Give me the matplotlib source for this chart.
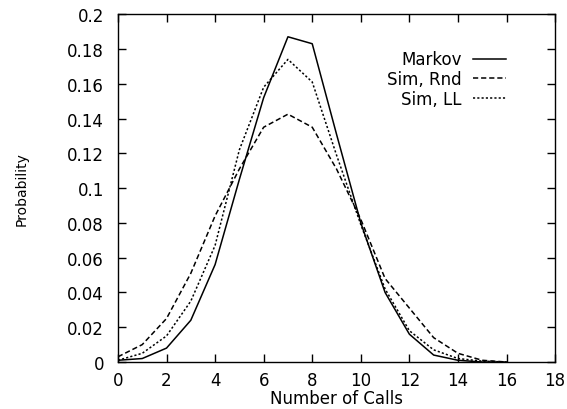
import matplotlib
matplotlib.use("Agg")
import matplotlib.pyplot as plt

plt.rcParams['font.family'] = ['DejaVu Sans']

calls = [0, 1, 2, 3, 4, 5, 6, 7, 8, 9, 10, 11, 12, 13, 14, 15, 16]
markov = [0.001, 0.002, 0.008, 0.024, 0.056, 0.105, 0.152, 0.187, 0.183,
          0.131, 0.080, 0.040, 0.016, 0.004, 0.001, 0.0, 0.0]
sim_rnd = [0.003, 0.010, 0.025, 0.051, 0.084, 0.111, 0.135, 0.1425, 0.135,
           0.111, 0.082, 0.048, 0.031, 0.014, 0.005, 0.001, 0.0]
sim_ll = [0.001, 0.005, 0.015, 0.035, 0.067, 0.122, 0.158, 0.174, 0.161,
          0.119, 0.079, 0.042, 0.018, 0.007, 0.002, 0.0005, 0.0]

xticks = [0, 2, 4, 6, 8, 10, 12, 14, 16, 18]
yticks = [0, 0.02, 0.04, 0.06, 0.08, 0.1, 0.12, 0.14, 0.16, 0.18, 0.2]
ylabels = ["0", "0.02", "0.04", "0.06", "0.08", "0.1", "0.12", "0.14",
           "0.16", "0.18", "0.2"]

fig = plt.figure(figsize=(5.67, 4.10), dpi=100)
ax = fig.add_axes([0.208, 0.1146, 0.771, 0.8484])

ax.plot(calls, markov, color="black", lw=1.1, label="Markov")
ax.plot(calls, sim_rnd, color="black", lw=1.1, linestyle=(0, (3.4, 1.9)),
        label="Sim, Rnd")
ax.plot(calls, sim_ll, color="black", lw=1.1, linestyle=(0, (1.4, 1.4)),
        label="Sim, LL")

ax.set_xlim(0, 18)
ax.set_ylim(0, 0.2)
ax.set_xticks(xticks)
ax.set_yticks(yticks)
ax.set_yticklabels(ylabels)
ax.tick_params(direction="in", length=5.5, width=1.0, top=True, right=True,
               labelsize=12)
ax.tick_params(axis="x", pad=6.5)
ax.tick_params(axis="y", pad=10)
for s in ax.spines.values():
    s.set_linewidth(1.0)

ax.set_xlabel("Number of Calls", fontsize=12, labelpad=0)
ax.set_ylabel("Probability", fontsize=10, labelpad=28)

ax.legend(loc="upper right", bbox_to_anchor=(0.904, 0.915), frameon=False,
          markerfirst=False, fontsize=12, handlelength=2.0,
          handletextpad=0.7, labelspacing=0.1, borderaxespad=0)

fig.savefig("out.png", dpi=100)
